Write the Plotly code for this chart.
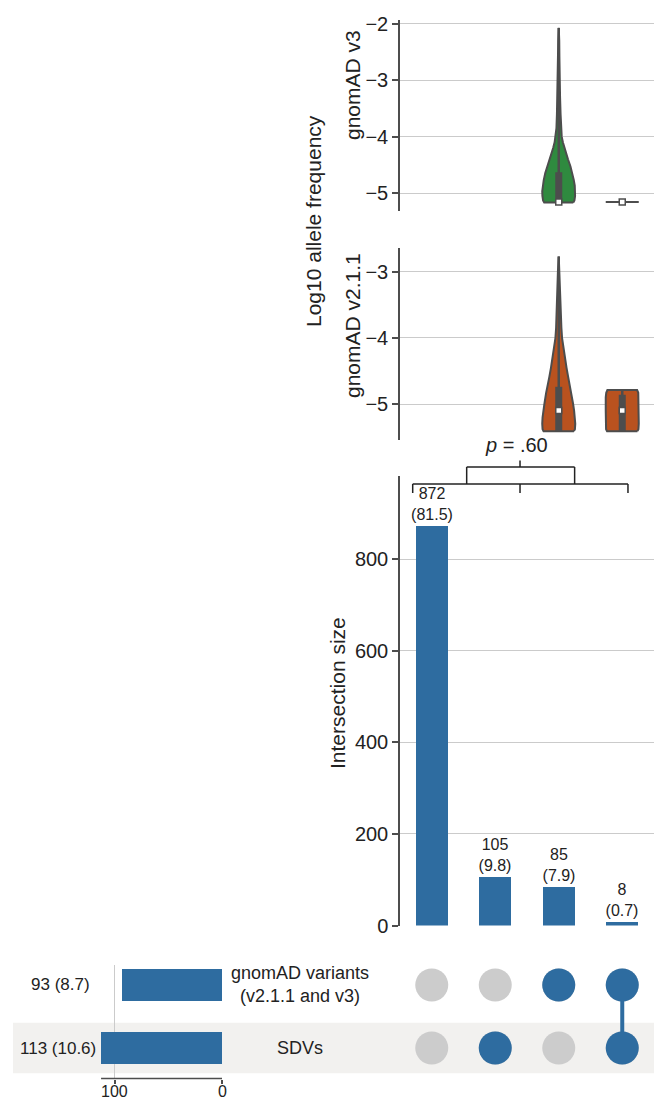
import plotly.graph_objects as go

# ------------------------------------------------------------------ data
col_ids = [0, 1, 2, 3]                       # intersection columns
intersection_sizes = [872, 105, 85, 8]
intersection_pcts = [81.5, 9.8, 7.9, 0.7]
set_labels = ["gnomAD variants<br>(v2.1.1 and v3)", "SDVs"]
set_rows = [1, 0]
set_sizes = [93, 113]
set_pcts = [8.7, 10.6]
set_ticks = [0, 100]
member_gnomad = [0, 0, 1, 1]
member_sdv = [0, 1, 0, 1]

# violin outlines: log10 allele frequency level and relative density
v3_c2_y = [-5.17, -5.13, -5.05, -4.97, -4.87, -4.77, -4.65, -4.53, -4.40, -4.30,
           -4.20, -4.10, -4.00, -3.85, -3.60, -3.30, -3.00, -2.60, -2.30, -2.07]
v3_c2_d = [0.88, 0.95, 0.99, 1.00, 0.97, 0.91, 0.82, 0.71, 0.56, 0.45,
           0.34, 0.25, 0.18, 0.14, 0.11, 0.08, 0.05, 0.04, 0.03, 0.0]
v3_c3_y = [-5.16, -5.16]
v3_c3_d = [1.0, 1.0]
v2_c2_y = [-5.41, -5.38, -5.30, -5.20, -5.10, -5.00, -4.84, -4.70, -4.59, -4.45,
           -4.34, -4.20, -4.10, -4.00, -3.85, -3.60, -3.30, -3.00, -2.77]
v2_c2_d = [0.92, 0.98, 1.00, 0.98, 0.93, 0.87, 0.77, 0.67, 0.57, 0.47,
           0.40, 0.31, 0.25, 0.20, 0.16, 0.12, 0.08, 0.05, 0.0]
v2_c3_y = [-5.41, -5.38, -5.30, -5.10, -4.90, -4.83, -4.79]
v2_c3_d = [0.92, 0.98, 1.00, 1.00, 1.00, 0.97, 0.90]

# inner box statistics [whisker low, q1, median, q3, whisker high]
v3_c2_box = [-5.17, -5.17, -5.16, -4.63, -2.07]
v3_c3_box = [-5.16, -5.16, -5.16, -5.16, -5.16]
v2_c2_box = [-5.42, -5.42, -5.10, -4.74, -2.77]
v2_c3_box = [-5.42, -5.42, -5.10, -4.86, -4.79]

p_text = "<i>p</i> = .60"

# ------------------------------------------------------------------ style
W, H = 654, 1101
FONT = "Liberation Sans"
BLUE = "#2e6ca0"
GREEN = "#2f8a3f"
ORANGE = "#b9521f"
DARK = "#4d4d4d"
GRID = "#cbcbcb"
TXT = "#222222"
HW = 0.26   # max violin half width (category units)


def px_y(p):
    return 1 - p / H


def px_x(p):
    return p / W


fig = go.Figure()


def add_violin(col, ys, ds, box, fill, xa, ya):
    xs_r = [col + d * HW for d in ds]
    xs_l = [col - d * HW for d in ds][::-1]
    x = xs_r + xs_l + [xs_r[0]]
    y = ys + ys[::-1] + [ys[0]]
    if max(ys) - min(ys) < 1e-9:
        fig.add_trace(go.Scatter(x=[col - HW, col + HW], y=[ys[0], ys[0]], mode="lines",
                                 line=dict(color=DARK, width=2), xaxis=xa, yaxis=ya,
                                 hoverinfo="skip", showlegend=False))
    else:
        fig.add_trace(go.Scatter(x=x, y=y, mode="lines", fill="toself", fillcolor=fill,
                                 line=dict(color=DARK, width=2), xaxis=xa, yaxis=ya,
                                 hoverinfo="skip", showlegend=False))
    lo, q1, med, q3, hi = box
    if hi > lo:
        fig.add_trace(go.Scatter(x=[col, col], y=[lo, hi], mode="lines",
                                 line=dict(color=DARK, width=2.5), xaxis=xa, yaxis=ya,
                                 hoverinfo="skip", showlegend=False))
    if q3 > q1:
        fig.add_trace(go.Scatter(x=[col, col], y=[q1, q3], mode="lines",
                                 line=dict(color=DARK, width=7), xaxis=xa, yaxis=ya,
                                 hoverinfo="skip", showlegend=False))
    fig.add_trace(go.Scatter(x=[col], y=[med], mode="markers",
                             marker=dict(symbol="square", size=6, color="white",
                                         line=dict(color=DARK, width=1.5)),
                             xaxis=xa, yaxis=ya, hoverinfo="skip", showlegend=False))


add_violin(col_ids[2], v3_c2_y, v3_c2_d, v3_c2_box, GREEN, "x", "y")
add_violin(col_ids[3], v3_c3_y, v3_c3_d, v3_c3_box, GREEN, "x", "y")
add_violin(col_ids[2], v2_c2_y, v2_c2_d, v2_c2_box, ORANGE, "x2", "y2")
add_violin(col_ids[3], v2_c3_y, v2_c3_d, v2_c3_box, ORANGE, "x2", "y2")

# intersection bars
fig.add_trace(go.Bar(
    x=col_ids, y=intersection_sizes, width=0.5, marker=dict(color=BLUE, line=dict(width=0)),
    text=[f"{n}<br>({p})" for n, p in zip(intersection_sizes, intersection_pcts)],
    textposition="outside", cliponaxis=False, constraintext="none",
    textfont=dict(family=FONT, size=16, color=TXT),
    xaxis="x3", yaxis="y3", hoverinfo="skip", showlegend=False))

# matrix: grey background dots
mx, my = [], []
for r in set_rows:
    for c in col_ids:
        mx.append(c)
        my.append(r)
fig.add_trace(go.Scatter(x=mx, y=my, mode="markers",
                         marker=dict(size=33, color="#cccccc"),
                         xaxis="x4", yaxis="y4", hoverinfo="skip", showlegend=False))
# membership
for c in col_ids:
    rows = []
    if member_gnomad[c]:
        rows.append(set_rows[0])
    if member_sdv[c]:
        rows.append(set_rows[1])
    if len(rows) > 1:
        fig.add_trace(go.Scatter(x=[c] * len(rows), y=rows, mode="lines",
                                 line=dict(color=BLUE, width=4),
                                 xaxis="x4", yaxis="y4", hoverinfo="skip", showlegend=False))
    if rows:
        fig.add_trace(go.Scatter(x=[c] * len(rows), y=rows, mode="markers",
                                 marker=dict(size=33, color=BLUE),
                                 xaxis="x4", yaxis="y4", hoverinfo="skip", showlegend=False))

# set size bars
fig.add_trace(go.Bar(x=set_sizes, y=set_rows, orientation="h", width=0.5,
                     marker=dict(color=BLUE, line=dict(width=0)),
                     xaxis="x5", yaxis="y5", hoverinfo="skip", showlegend=False))

# ------------------------------------------------------------------ axes
tick_font = dict(family=FONT, size=20, color=TXT)
yax_common = dict(showline=True, linecolor=DARK, linewidth=1.5, ticks="outside",
                  ticklen=6, tickwidth=1.5, tickcolor=DARK, showgrid=True,
                  gridcolor=GRID, gridwidth=1, zeroline=False, tickfont=tick_font,
                  automargin=False)
hidden = dict(visible=False, automargin=False)
xdom = [px_x(400), 1.0]
mat_dom = [px_y(1078.5), px_y(965)]
mat_rng = [-0.484, 1.317]

fig.update_layout(
    width=W, height=H, margin=dict(l=0, r=0, t=0, b=0, pad=0, autoexpand=False),
    paper_bgcolor="white", plot_bgcolor="rgba(0,0,0,0)",
    font=dict(family=FONT, color=TXT),
    bargap=0,
    xaxis=dict(domain=xdom, range=[-0.5, 3.5], anchor="y", **hidden),
    yaxis=dict(domain=[px_y(210.5), px_y(20)], range=[-5.31, -1.93],
               tickvals=[-5, -4, -3, -2], anchor="x", **yax_common),
    xaxis2=dict(domain=xdom, range=[-0.5, 3.5], anchor="y2", **hidden),
    yaxis2=dict(domain=[px_y(440), px_y(248.3)], range=[-5.544, -2.647],
                tickvals=[-5, -4, -3], anchor="x2", **yax_common),
    xaxis3=dict(domain=xdom, range=[-0.5, 3.5], anchor="y3", **hidden),
    yaxis3=dict(domain=[px_y(925.5), px_y(476)], range=[0, 982],
                tickvals=[0, 200, 400, 600, 800], anchor="x3", **yax_common),
    xaxis4=dict(domain=xdom, range=[-0.5, 3.5], anchor="y4", **hidden),
    yaxis4=dict(domain=mat_dom, range=mat_rng, anchor="x4", **hidden),
    xaxis5=dict(domain=[px_x(13), px_x(222)], range=[195.3, 0], anchor="y5",
                tickvals=set_ticks, showticklabels=False, showgrid=True, gridcolor=GRID,
                gridwidth=1, zeroline=False, showline=False, ticks="outside", ticklen=4,
                tickwidth=1.5, tickcolor=DARK, automargin=False),
    yaxis5=dict(domain=mat_dom, range=mat_rng, anchor="x5", **hidden),
)

# ------------------------------------------------------------------ shapes
shapes = []
# shaded matrix row
shapes.append(dict(type="rect", xref="paper", yref="y4", x0=px_x(13), x1=1,
                   y0=set_rows[1] - 0.4, y1=set_rows[1] + 0.4,
                   fillcolor="#f2f1ef", line=dict(width=0), layer="below"))
# trimmed axis line of the set size bars
shapes.append(dict(type="line", xref="x5", yref="paper", x0=0, x1=max(set_sizes),
                   y0=mat_dom[0], y1=mat_dom[0], line=dict(color=DARK, width=1.5)))
# significance bracket
bl = dict(color="#222222", width=1.5)
yb_line, yb_leg, yt_line, yt_tick = px_y(484), px_y(493), px_y(467), px_y(460.5)
xa0, xmid, xa1 = -0.3, 1.39, 3.09
xs0, xs1 = 0.55, 2.25
for (x0, y0, x1, y1) in [
        (xa0, yb_line, xa1, yb_line),
        (xa0, yb_line, xa0, yb_leg), (xmid, yb_line, xmid, yb_leg), (xa1, yb_line, xa1, yb_leg),
        (xs0, yt_line, xs1, yt_line),
        (xs0, yt_line, xs0, yb_line), (xs1, yt_line, xs1, yb_line),
        (xmid, yt_line, xmid, yt_tick)]:
    shapes.append(dict(type="line", xref="x3", yref="paper", x0=x0, x1=x1, y0=y0, y1=y1,
                       line=bl))
fig.update_layout(shapes=shapes)

# ------------------------------------------------------------------ annotations
ann = []


def label(text, x, y, xref="paper", yref="paper", size=21, angle=0, xanchor="center",
          yanchor="middle"):
    ann.append(dict(text=text, x=x, y=y, xref=xref, yref=yref, textangle=angle,
                    xanchor=xanchor, yanchor=yanchor, showarrow=False, align="center",
                    borderpad=0, font=dict(family=FONT, size=size, color=TXT)))


label("Log10 allele frequency", px_x(314), px_y(221), angle=-90)
label("gnomAD v3", px_x(352), px_y(85), angle=-90)
label("gnomAD v2.1.1", px_x(352), px_y(325), angle=-90)
label("Intersection size", px_x(337), px_y(693), angle=-90)
label(p_text, 1.33, px_y(445), xref="x3", size=20)
for lab, r in zip(set_labels, set_rows):
    label(lab, px_x(300), r, yref="y4", size=18)
lab_right = [91, 97]
for n, p, r, xr in zip(set_sizes, set_pcts, set_rows, lab_right):
    label(f"{n} ({p})", px_x(xr), r, yref="y5", size=17, xanchor="right")
# tick labels of the set size axis (kept inside the page)
for t in set_ticks:
    label(str(t), t, 0.0, xref="x5", size=16, yanchor="bottom")
fig.update_layout(annotations=ann)

fig.write_html("out.html", config={"displayModeBar": False},
               post_script="document.body.style.margin='0';"
                           "document.body.style.overflow='hidden';"
                           "document.documentElement.style.overflow='hidden';")
